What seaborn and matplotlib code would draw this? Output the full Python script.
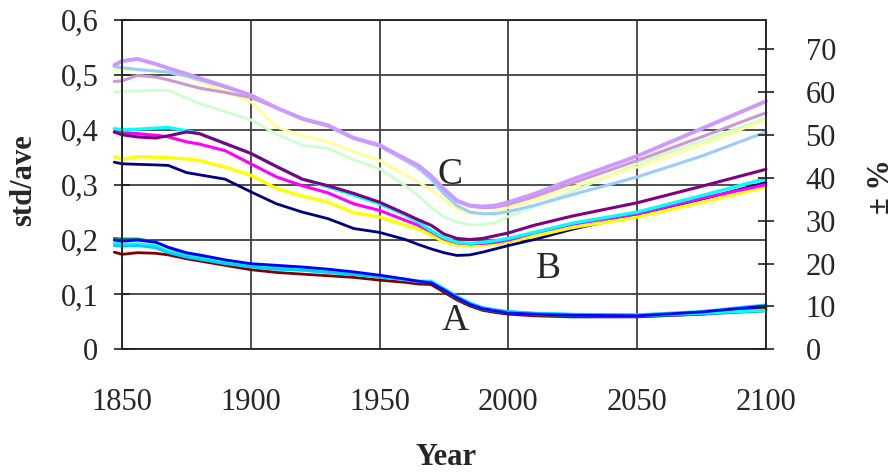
import matplotlib
matplotlib.use("Agg")
import matplotlib.pyplot as plt
import seaborn as sns
import pandas as pd
import numpy as np

# ---------------- data ----------------
YEARS = [1847, 1850, 1856, 1863, 1868, 1875, 1880, 1890, 1900, 1910, 1920, 1930,
         1940, 1950, 1960, 1965, 1970, 1975, 1980, 1985, 1990, 1995, 2000, 2010,
         2025, 2050, 2075, 2100]

# Group A
a_darkred = [.177, .173, .176, .175, .172, .165, .161, .153, .145, .140, .137, .134,
             .131, .126, .122, .119, .118, .104, .090, .079, .071, .067, .064, .061,
             .059, .059, .064, .075]
a_teal = [.202, .201, .201, .196, .185, .174, .170, .161, .153, .149, .146, .142,
          .138, .133, .127, .123, .122, .107, .093, .081, .073, .069, .066, .063,
          .061, .060, .064, .070]
a_cyan = [.193, .191, .192, .188, .178, .170, .166, .158, .151, .147, .145, .141,
          .137, .133, .127, .124, .124, .110, .096, .084, .075, .071, .068, .065,
          .063, .062, .066, .071]
a_sky = [.189, .188, .189, .185, .176, .168, .164, .156, .150, .146, .144, .140,
         .136, .132, .127, .124, .123, .110, .096, .084, .076, .072, .069, .066,
         .064, .063, .069, .081]
a_blue = [.199, .197, .199, .195, .186, .176, .172, .163, .156, .153, .150, .146,
          .141, .135, .128, .124, .121, .108, .094, .082, .074, .070, .066, .064,
          .062, .061, .068, .079]

# Group B
b_navy = [.341, .338, .337, .336, .335, .322, .318, .310, .287, .265, .250, .238,
          .220, .213, .200, .191, .183, .176, .171, .172, .177, .183, .189, .200,
          .219, .245, .273, .304]
b_yellow = [.351, .346, .351, .350, .349, .347, .344, .332, .317, .293, .279, .268,
            .249, .241, .226, .219, .208, .196, .190, .189, .190, .192, .196, .206,
            .222, .241, .268, .296]
b_magenta = [.396, .395, .393, .390, .387, .378, .374, .362, .338, .314, .298, .285,
             .265, .253, .235, .226, .214, .201, .194, .192, .193, .195, .199, .212,
             .228, .247, .275, .300]
b_cyan = [.402, .400, .401, .403, .404, .398, .393, .375, .357, .333, .310, .296,
          .281, .265, .245, .232, .216, .203, .195, .193, .195, .198, .202, .213,
          .230, .250, .280, .311]
b_purple = [.396, .391, .387, .385, .389, .396, .393, .375, .357, .333, .310, .298,
            .284, .268, .247, .236, .226, .210, .202, .200, .202, .207, .212, .226,
            .243, .267, .297, .328]

# Group C
c_green = [.469, .470, .471, .472, .472, .458, .448, .433, .418, .392, .372, .366,
           .345, .329, .298, .280, .258, .241, .232, .227, .227, .231, .242, .260,
           .288, .338, .380, .421]
c_yellow = [.508, .509, .508, .506, .505, .496, .488, .470, .451, .405, .389, .378,
            .360, .344, .318, .305, .290, .272, .256, .248, .247, .251, .258, .272,
            .296, .332, .373, .418]
c_lilac = [.488, .489, .499, .496, .491, .482, .476, .468, .459, .440, .420, .407,
           .385, .371, .346, .333, .314, .290, .270, .261, .258, .259, .264, .278,
           .303, .344, .387, .431]
c_blue = [.515, .513, .510, .507, .505, .498, .491, .478, .463, .440, .420, .407,
          .384, .370, .344, .330, .310, .283, .262, .250, .247, .247, .251, .262,
          .282, .314, .352, .396]
c_lavender = [.518, .525, .529, .520, .512, .502, .494, .479, .463, .440, .420, .408,
              .385, .372, .347, .335, .316, .292, .271, .262, .260, .262, .268, .283,
              .310, .352, .402, .452]

SERIES = [
    ("A dark red", a_darkred, "#800000", 2.0),
    ("A teal", a_teal, "#008080", 2.0),
    ("A cyan", a_cyan, "#00FFFF", 2.4),
    ("A sky", a_sky, "#00CCFF", 2.0),
    ("A blue", a_blue, "#0000FF", 2.0),
    ("B navy", b_navy, "#000080", 2.0),
    ("B yellow", b_yellow, "#FFFF00", 2.4),
    ("B magenta", b_magenta, "#FF00FF", 2.2),
    ("B cyan", b_cyan, "#00FFFF", 2.4),
    ("B purple", b_purple, "#800080", 2.2),
    ("C green", c_green, "#CCFFCC", 2.0),
    ("C yellow", c_yellow, "#FFFF99", 2.0),
    ("C lilac", c_lilac, "#CC99CC", 2.2),
    ("C blue", c_blue, "#99CCFF", 2.2),
    ("C lavender", c_lavender, "#CC99FF", 2.8),
]

LEFT_TICKS = [0, 0.1, 0.2, 0.3, 0.4, 0.5, 0.6]
LEFT_LABELS = ["0", "0,1", "0,2", "0,3", "0,4", "0,5", "0,6"]
RIGHT_TICKS = [0, 10, 20, 30, 40, 50, 60, 70]
X_TICKS = [1850, 1900, 1950, 2000, 2050, 2100]

# ---------------- plot ----------------
sns.set_theme(style="white")
plt.rcParams["font.family"] = ["Liberation Serif", "DejaVu Serif"]

fig = plt.figure(figsize=(8.96, 4.73), dpi=100)
ax = fig.add_axes([122 / 896, 1 - 349.3 / 473, (766 - 122) / 896, (349.3 - 20) / 473])

GRID = "#404040"
ax.set_axisbelow(True)
ax.grid(True, color=GRID, lw=1.3)

for name, vals, col, lw in SERIES:
    df = pd.DataFrame({"Year": YEARS, "v": vals})
    sns.lineplot(data=df, x="Year", y="v", color=col, linewidth=lw, ax=ax,
                 clip_on=False, legend=False)

ax.set_xlim(1850, 2100)
ax.set_ylim(0, 0.6)
ax.set_xticks(X_TICKS)
ax.set_yticks(LEFT_TICKS)
ax.set_yticklabels(LEFT_LABELS)
ax.set_xlabel("")
ax.set_ylabel("")
for s in ax.spines.values():
    s.set_color("#202020")
    s.set_linewidth(1.3)
ax.tick_params(axis="y", direction="inout", length=12, width=1.2, color="#202020",
               pad=11, labelsize=22)
ax.tick_params(axis="x", direction="out", length=7, width=1.2, color="#202020",
               pad=21, labelsize=22)

ax2 = ax.twinx()
ax2.set_ylim(0, 76.8)
ax2.set_yticks(RIGHT_TICKS)
ax2.tick_params(axis="y", direction="inout", length=11, width=1.2, color="#202020",
                pad=23, labelsize=22)
for s in ax2.spines.values():
    s.set_visible(False)
ax2.grid(False)

# curve labels
ax.text(1977.3, 0.318, "C", fontsize=27, ha="center", va="center")
ax.text(2015.4, 0.147, "B", fontsize=27, ha="center", va="center")
ax.text(1979.3, 0.052, "A", fontsize=27, ha="center", va="center")

fig.text(24 / 896, 1 - 180 / 473, "std/ave", rotation=90, fontsize=22,
         fontweight="bold", ha="center", va="center")
fig.text(881 / 896, 1 - 187 / 473, "± %", rotation=90, fontsize=22,
         fontweight="bold", ha="center", va="center")
fig.text(446 / 896, 1 - 457 / 473, "Year", fontsize=22, fontweight="bold",
         ha="center", va="center")

fig.savefig("out.png", dpi=100)
